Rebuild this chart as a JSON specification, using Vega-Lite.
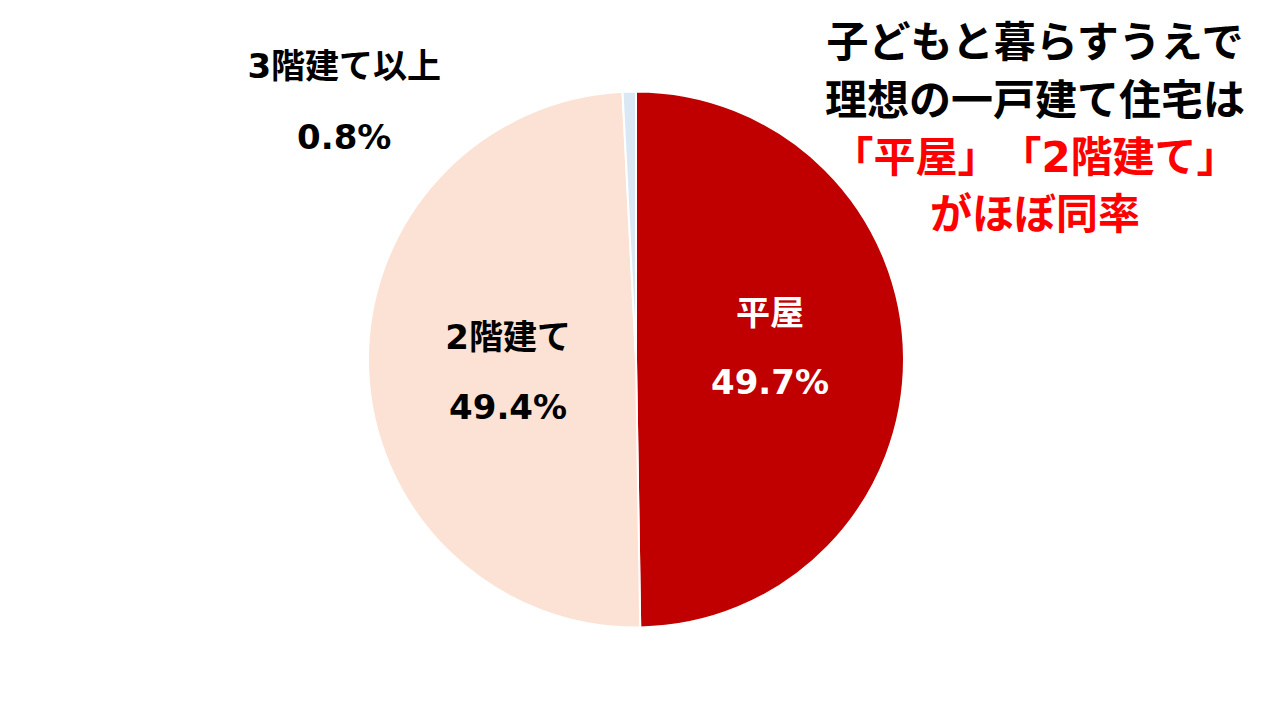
{
  "$schema": "https://vega.github.io/schema/vega-lite/v6.json",
  "width": 1272,
  "height": 719,
  "autosize": "none",
  "padding": 0,
  "background": "white",
  "config": {"view": {"stroke": null}},
  "title": {
    "text": ["子どもと暮らすうえで", "理想の一戸建て住宅は"],
    "subtitle": ["「平屋」　「2階建て」", "がほぼ同率"],
    "orient": "top",
    "anchor": "start",
    "frame": "group",
    "align": "center",
    "dx": 1035,
    "offset": -238,
    "font": "DejaVu Sans, Noto Sans CJK JP",
    "fontSize": 42,
    "fontWeight": "bold",
    "color": "black",
    "lineHeight": 58,
    "subtitleFont": "DejaVu Sans, Noto Sans CJK JP",
    "subtitleFontSize": 42,
    "subtitleFontWeight": "bold",
    "subtitleColor": "#FF0000",
    "subtitleLineHeight": 57,
    "subtitlePadding": 15
  },
  "data": {
    "values": [
      {"i": 1, "name": "平屋", "share": 0.497},
      {"i": 2, "name": "2階建て", "share": 0.494},
      {"i": 3, "name": "3階建て以上", "share": 0.008}
    ]
  },
  "encoding": {
    "theta": {"field": "share", "type": "quantitative", "stack": true},
    "order": {"field": "i", "type": "quantitative"}
  },
  "layer": [
    {
      "mark": {"type": "arc", "outerRadius": 268, "stroke": "white", "strokeWidth": 2},
      "encoding": {
        "color": {
          "field": "name",
          "type": "nominal",
          "scale": {"domain": ["平屋", "2階建て", "3階建て以上"], "range": ["#C00000", "#FBE2D5", "#DAE8F5"]},
          "legend": null
        }
      }
    },
    {
      "mark": {"type": "text", "radius": 134, "dy": -43, "fontSize": 34, "fontWeight": "bold", "color": "white", "font": "DejaVu Sans, Noto Sans CJK JP"},
      "encoding": {
        "detail": {"field": "name"},
        "text": {"field": "name"},
        "opacity": {"condition": {"test": "datum.i == 1", "value": 1}, "value": 0}
      }
    },
    {
      "mark": {"type": "text", "radius": 134, "dy": 26, "fontSize": 34, "fontWeight": "bold", "color": "white", "font": "DejaVu Sans, Noto Sans CJK JP"},
      "encoding": {
        "detail": {"field": "name"},
        "text": {"field": "share", "format": ".1%"},
        "opacity": {"condition": {"test": "datum.i == 1", "value": 1}, "value": 0}
      }
    },
    {
      "mark": {"type": "text", "radius": 128, "dy": -25, "fontSize": 34, "fontWeight": "bold", "color": "black", "font": "DejaVu Sans, Noto Sans CJK JP"},
      "encoding": {
        "detail": {"field": "name"},
        "text": {"field": "name"},
        "opacity": {"condition": {"test": "datum.i == 2", "value": 1}, "value": 0}
      }
    },
    {
      "mark": {"type": "text", "radius": 128, "dy": 45, "fontSize": 34, "fontWeight": "bold", "color": "black", "font": "DejaVu Sans, Noto Sans CJK JP"},
      "encoding": {
        "detail": {"field": "name"},
        "text": {"field": "share", "format": ".1%"},
        "opacity": {"condition": {"test": "datum.i == 2", "value": 1}, "value": 0}
      }
    },
    {
      "mark": {"type": "text", "radius": 268, "dx": -285, "dy": -24, "fontSize": 34, "fontWeight": "bold", "color": "black", "font": "DejaVu Sans, Noto Sans CJK JP"},
      "encoding": {
        "detail": {"field": "name"},
        "text": {"field": "name"},
        "opacity": {"condition": {"test": "datum.i == 3", "value": 1}, "value": 0}
      }
    },
    {
      "mark": {"type": "text", "radius": 268, "dx": -285, "dy": 47, "fontSize": 34, "fontWeight": "bold", "color": "black", "font": "DejaVu Sans, Noto Sans CJK JP"},
      "encoding": {
        "detail": {"field": "name"},
        "text": {"field": "share", "format": ".1%"},
        "opacity": {"condition": {"test": "datum.i == 3", "value": 1}, "value": 0}
      }
    }
  ]
}
